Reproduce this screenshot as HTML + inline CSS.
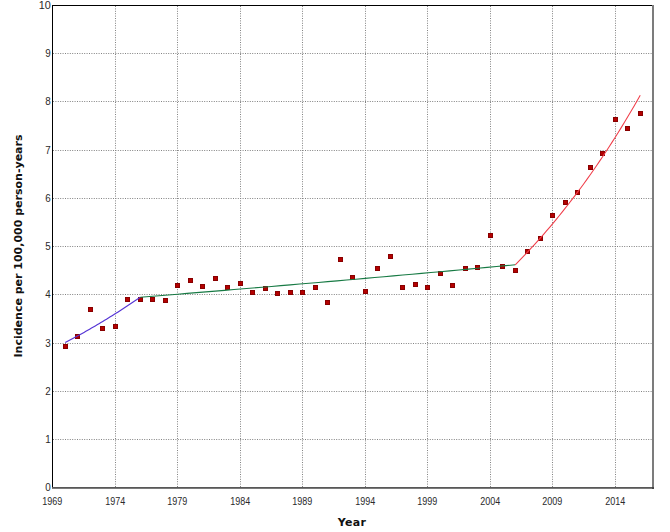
<!DOCTYPE html><html><head><meta charset="utf-8"><title>Incidence chart</title><style>html,body{margin:0;padding:0;background:#fff;overflow:hidden}svg{display:block}</style></head><body>
<svg width="670" height="532" viewBox="0 0 670 532">
<rect width="670" height="532" fill="#fff"/>
<g stroke="#828282" stroke-width="1" stroke-dasharray="1 1.4"><line x1="53" y1="439.5" x2="652" y2="439.5"/><line x1="53" y1="391.5" x2="652" y2="391.5"/><line x1="53" y1="343.5" x2="652" y2="343.5"/><line x1="53" y1="294.5" x2="652" y2="294.5"/><line x1="53" y1="246.5" x2="652" y2="246.5"/><line x1="53" y1="198.5" x2="652" y2="198.5"/><line x1="53" y1="150.5" x2="652" y2="150.5"/><line x1="53" y1="101.5" x2="652" y2="101.5"/><line x1="53" y1="53.5" x2="652" y2="53.5"/><line x1="115.5" y1="6" x2="115.5" y2="487"/><line x1="177.5" y1="6" x2="177.5" y2="487"/><line x1="240.5" y1="6" x2="240.5" y2="487"/><line x1="302.5" y1="6" x2="302.5" y2="487"/><line x1="365.5" y1="6" x2="365.5" y2="487"/><line x1="427.5" y1="6" x2="427.5" y2="487"/><line x1="490.5" y1="6" x2="490.5" y2="487"/><line x1="552.5" y1="6" x2="552.5" y2="487"/><line x1="615.5" y1="6" x2="615.5" y2="487"/></g>
<g fill="#b40000" stroke="#880000" stroke-width="1"><rect x="63.5" y="344.5" width="4" height="4"/><rect x="75.5" y="334.5" width="4" height="4"/><rect x="88.5" y="307.5" width="4" height="4"/><rect x="100.5" y="326.5" width="4" height="4"/><rect x="113.5" y="324.5" width="4" height="4"/><rect x="125.5" y="297.5" width="4" height="4"/><rect x="138.5" y="297.5" width="4" height="4"/><rect x="150.5" y="297.5" width="4" height="4"/><rect x="163.5" y="298.5" width="4" height="4"/><rect x="175.5" y="283.5" width="4" height="4"/><rect x="188.5" y="278.5" width="4" height="4"/><rect x="200.5" y="284.5" width="4" height="4"/><rect x="213.5" y="276.5" width="4" height="4"/><rect x="225.5" y="285.5" width="4" height="4"/><rect x="238.5" y="281.5" width="4" height="4"/><rect x="250.5" y="290.5" width="4" height="4"/><rect x="263.5" y="286.5" width="4" height="4"/><rect x="275.5" y="291.5" width="4" height="4"/><rect x="288.5" y="290.5" width="4" height="4"/><rect x="300.5" y="290.5" width="4" height="4"/><rect x="313.5" y="285.5" width="4" height="4"/><rect x="325.5" y="300.5" width="4" height="4"/><rect x="338.5" y="257.5" width="4" height="4"/><rect x="350.5" y="275.5" width="4" height="4"/><rect x="363.5" y="289.5" width="4" height="4"/><rect x="375.5" y="266.5" width="4" height="4"/><rect x="388.5" y="254.5" width="4" height="4"/><rect x="400.5" y="285.5" width="4" height="4"/><rect x="413.5" y="282.5" width="4" height="4"/><rect x="425.5" y="285.5" width="4" height="4"/><rect x="438.5" y="271.5" width="4" height="4"/><rect x="450.5" y="283.5" width="4" height="4"/><rect x="463.5" y="266.5" width="4" height="4"/><rect x="475.5" y="265.5" width="4" height="4"/><rect x="488.5" y="233.5" width="4" height="4"/><rect x="500.5" y="264.5" width="4" height="4"/><rect x="513.5" y="268.5" width="4" height="4"/><rect x="525.5" y="249.5" width="4" height="4"/><rect x="538.5" y="236.5" width="4" height="4"/><rect x="550.5" y="213.5" width="4" height="4"/><rect x="563.5" y="200.5" width="4" height="4"/><rect x="575.5" y="190.5" width="4" height="4"/><rect x="588.5" y="165.5" width="4" height="4"/><rect x="600.5" y="151.5" width="4" height="4"/><rect x="613.5" y="117.5" width="4" height="4"/><rect x="625.5" y="126.5" width="4" height="4"/><rect x="638.5" y="111.5" width="4" height="4"/></g>
<polyline fill="none" stroke="#5535d5" stroke-width="1.15" stroke-linejoin="round" points="65.25,342.60 67.13,341.61 69.00,340.61 70.88,339.61 72.75,338.60 74.62,337.58 76.50,336.55 78.37,335.52 80.25,334.48 82.12,333.44 84.00,332.38 85.88,331.32 87.75,330.26 89.63,329.18 91.50,328.10 93.38,327.01 95.25,325.91 97.12,324.81 99.00,323.69 100.87,322.57 102.75,321.45 104.63,320.31 106.50,319.17 108.38,318.02 110.25,316.86 112.12,315.69 114.00,314.52 115.87,313.33 117.75,312.14 119.62,310.94 121.50,309.74 123.38,308.52 125.25,307.30 127.13,306.06 129.00,304.82 130.88,303.58 132.75,302.32 134.62,301.05 136.50,299.78 138.37,298.49 140.25,297.20"/>
<polyline fill="none" stroke="#177a44" stroke-width="1.1" stroke-linejoin="round" points="140.25,297.20 149.62,296.45 159.00,295.70 168.38,294.94 177.75,294.18 187.12,293.42 196.50,292.66 205.88,291.89 215.25,291.12 224.62,290.35 234.00,289.57 243.38,288.79 252.75,288.01 262.12,287.22 271.50,286.44 280.88,285.64 290.25,284.85 299.62,284.05 309.00,283.25 318.38,282.44 327.75,281.64 337.12,280.83 346.50,280.01 355.88,279.20 365.25,278.37 374.62,277.55 384.00,276.72 393.38,275.89 402.75,275.06 412.12,274.22 421.50,273.38 430.88,272.54 440.25,271.69 449.62,270.84 459.00,269.99 468.38,269.13 477.75,268.27 487.12,267.41 496.50,266.54 505.88,265.67 515.25,264.80"/>
<polyline fill="none" stroke="#f03c48" stroke-width="1.05" stroke-linejoin="round" points="515.25,264.80 518.38,261.63 521.50,258.41 524.62,255.14 527.75,251.83 530.88,248.47 534.00,245.06 537.12,241.61 540.25,238.10 543.38,234.55 546.50,230.94 549.62,227.29 552.75,223.58 555.88,219.81 559.00,216.00 562.12,212.13 565.25,208.20 568.38,204.22 571.50,200.18 574.62,196.09 577.75,191.93 580.88,187.72 584.00,183.44 587.12,179.11 590.25,174.71 593.38,170.25 596.50,165.73 599.62,161.14 602.75,156.49 605.88,151.77 609.00,146.99 612.12,142.13 615.25,137.21 618.38,132.21 621.50,127.15 624.62,122.01 627.75,116.80 630.88,111.51 634.00,106.15 637.12,100.71 640.25,95.20"/>
<rect x="52" y="5" width="1" height="483" fill="#000"/>
<rect x="52" y="5" width="601" height="1" fill="#000"/>
<rect x="652" y="5" width="2" height="484" fill="#7c7c7c"/>
<rect x="52" y="487" width="602" height="1" fill="#585858"/>
<rect x="52" y="488" width="602" height="1" fill="#7a7a7a"/>
<rect x="652" y="487" width="2" height="2" fill="#444"/>
<g font-family="Liberation Sans, Arial, sans-serif" font-size="11" fill="#2a2a2a"><text transform="translate(50.8,491.2) scale(0.84,1)" text-anchor="end" font-size="11.7">0</text><text transform="translate(50.8,443.0) scale(0.84,1)" text-anchor="end" font-size="11.7">1</text><text transform="translate(50.8,394.7) scale(0.84,1)" text-anchor="end" font-size="11.7">2</text><text transform="translate(50.8,346.5) scale(0.84,1)" text-anchor="end" font-size="11.7">3</text><text transform="translate(50.8,298.3) scale(0.84,1)" text-anchor="end" font-size="11.7">4</text><text transform="translate(50.8,250.1) scale(0.84,1)" text-anchor="end" font-size="11.7">5</text><text transform="translate(50.8,201.9) scale(0.84,1)" text-anchor="end" font-size="11.7">6</text><text transform="translate(50.8,153.6) scale(0.84,1)" text-anchor="end" font-size="11.7">7</text><text transform="translate(50.8,105.4) scale(0.84,1)" text-anchor="end" font-size="11.7">8</text><text transform="translate(50.8,57.2) scale(0.84,1)" text-anchor="end" font-size="11.7">9</text><text transform="translate(50.8,8.6) scale(0.93,1)" text-anchor="end" font-size="11.7">10</text><text transform="translate(52.2,505) scale(0.82,1)" text-anchor="middle">1969</text><text transform="translate(115.2,505) scale(0.82,1)" text-anchor="middle">1974</text><text transform="translate(177.2,505) scale(0.82,1)" text-anchor="middle">1979</text><text transform="translate(240.2,505) scale(0.82,1)" text-anchor="middle">1984</text><text transform="translate(302.2,505) scale(0.82,1)" text-anchor="middle">1989</text><text transform="translate(365.2,505) scale(0.82,1)" text-anchor="middle">1994</text><text transform="translate(427.2,505) scale(0.82,1)" text-anchor="middle">1999</text><text transform="translate(490.2,505) scale(0.82,1)" text-anchor="middle">2004</text><text transform="translate(552.2,505) scale(0.82,1)" text-anchor="middle">2009</text><text transform="translate(615.2,505) scale(0.82,1)" text-anchor="middle">2014</text></g>
<text x="352" y="526" text-anchor="middle" letter-spacing="0.3" font-family="DejaVu Sans, Verdana, sans-serif" font-weight="bold" font-size="11" fill="#111">Year</text>
<text transform="translate(22,246) rotate(-90)" text-anchor="middle" font-family="DejaVu Sans, Verdana, sans-serif" font-weight="bold" font-size="11" fill="#111">Incidence per 100,000 person-years</text>
</svg></body></html>
